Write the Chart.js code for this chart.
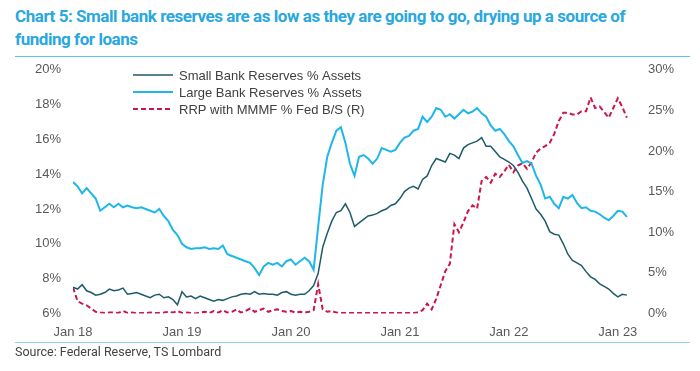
<!DOCTYPE html>
<html>
<head>
<meta charset="utf-8">
<script src="https://cdn.jsdelivr.net/npm/chart.js@4/dist/chart.umd.min.js"></script>
<style>
  body { margin: 0; background: #fff; width: 700px; height: 371px; overflow: hidden; position: relative; }
  #titulo {
    position: absolute; left: 15px; top: 5px; width: 680px;
    font-family: Roboto, sans-serif; font-weight: bold; font-size: 17px; line-height: 23px;
    color: #29a8df; letter-spacing: -0.45px;
  }
  #linhaTopo { position: absolute; left: 15px; top: 56px; width: 675px; height: 0; border-top: 1.5px solid #5cc3ea; }
  #linhaBase { position: absolute; left: 15px; top: 342px; width: 675px; height: 0; border-top: 1px solid #8fd3ef; }
  #fonte {
    position: absolute; left: 15px; top: 344px;
    font-family: Roboto, sans-serif; font-size: 12.5px; color: #444;
  }
  #caixa { position: absolute; left: 0; top: 58px; width: 700px; height: 287px; }
</style>
</head>
<body>
<div id="titulo">Chart 5: Small bank reserves are as low as they are going to go, drying up a source of<br>funding for loans</div>
<div id="linhaTopo"></div>
<div id="caixa"><canvas id="grafico"></canvas></div>
<div id="linhaBase"></div>
<div id="fonte">Source: Federal Reserve, TS Lombard</div>
<script>
// meio-mes a partir de Jan 18 (indice * 0.5 = meses)
const rotulosAnos = ['Jan 18', 'Jan 19', 'Jan 20', 'Jan 21', 'Jan 22', 'Jan 23'];

const reservasPequenos = [
  7.5, 7.4, 7.65, 7.3, 7.2, 7.05, 7.1, 7.2, 7.4, 7.3,
  7.35, 7.45, 7.1, 7.15, 7.2, 7.1, 7.0, 6.9, 7.05, 7.1,
  6.9, 6.95, 6.8, 6.5, 7.25, 6.95, 7.0, 6.85, 7.0, 6.9,
  6.8, 6.7, 6.8, 6.75, 6.85, 6.95, 7.0, 7.1, 7.15, 7.1,
  7.25, 7.1, 7.15, 7.1, 7.1, 7.05, 7.2, 7.25, 7.1, 7.05,
  7.1, 7.1, 7.3, 7.6, 8.3, 9.8, 10.6, 11.3, 11.8, 11.9,
  12.3, 11.8, 11.0, 11.2, 11.4, 11.6, 11.65, 11.75, 11.9, 12.0,
  12.2, 12.3, 12.6, 13.0, 13.2, 13.3, 13.15, 13.7, 13.9, 14.5,
  14.9, 14.8, 14.7, 15.2, 15.1, 14.9, 15.5, 15.7, 15.8, 15.9,
  16.1, 15.6, 15.6, 15.3, 15.0, 14.85, 14.7, 14.5, 14.1, 13.6,
  13.2, 12.6, 12.0, 11.7, 11.3, 10.7, 10.55, 10.5, 10.0, 9.4,
  9.05, 8.9, 8.75, 8.4, 8.1, 7.95, 7.7, 7.55, 7.4, 7.15,
  6.95, 7.1, 7.05
];

const reservasGrandes = [
  13.55, 13.3, 12.9, 13.2, 12.9, 12.6, 11.9, 12.1, 12.3, 12.1,
  12.3, 12.1, 12.2, 12.1, 12.05, 12.1, 12.0, 11.9, 11.8, 12.0,
  11.6, 11.3, 10.8, 10.5, 10.0, 9.8, 9.7, 9.75, 9.75, 9.8,
  9.7, 9.75, 9.7, 9.9, 9.4, 9.3, 9.2, 9.1, 9.0, 8.9,
  8.6, 8.2, 8.7, 8.9, 8.8, 8.9, 8.7, 9.0, 9.1, 8.8,
  9.0, 9.2, 9.0, 8.5, 11.0, 13.4, 15.0, 15.8, 16.5, 16.7,
  15.8, 14.6, 13.9, 15.0, 15.1, 14.9, 14.6, 14.9, 15.5, 15.4,
  15.3, 15.4, 15.8, 16.1, 16.2, 16.5, 16.6, 17.3, 17.0, 17.3,
  17.8, 17.7, 17.3, 17.45, 17.2, 17.45, 17.7, 17.5, 17.6, 17.8,
  17.5, 17.3, 16.8, 16.5, 16.6, 16.3, 15.9, 15.6, 15.1, 14.65,
  14.75, 14.6, 13.9, 13.4, 12.6, 12.7, 12.3, 12.05, 12.7, 12.6,
  12.8, 12.35, 12.05, 12.1, 11.9, 11.85, 11.7, 11.5, 11.35, 11.6,
  11.9, 11.85, 11.55
];

const rrpFed = [
  3.2, 1.5, 1.2, 1.0, 0.6, 0.2, 0.1, 0.05, 0.1, 0.1,
  0.05, 0.3, 0.05, 0.1, 0.0, 0.05, 0.05, 0.1, 0.05, 0.05,
  0.1, 0.2, 0.1, 0.3, 0.05, 0.1, 0.05, 0.0, 0.1, 0.2,
  0.05, 0.3, 0.1, 0.4, 0.1, 0.2, 0.5, 0.1, 0.3, 0.6,
  0.2, 0.4, 0.6, 0.2, 0.4, 0.5, 0.3, 0.2, 0.3, 0.1,
  0.2, 0.1, 0.2, 0.4, 3.6, 0.5, 0.2, 0.3, 0.1, 0.05,
  0.05, 0.05, 0.05, 0.05, 0.05, 0.05, 0.05, 0.05, 0.05, 0.05,
  0.05, 0.05, 0.05, 0.05, 0.05, 0.05, 0.1, 0.4, 1.2, 0.5,
  1.8, 3.5, 5.2, 6.1, 11.0, 10.0, 11.2, 12.6, 13.3, 12.9,
  16.3, 16.8, 16.1, 17.2, 16.8, 17.5, 18.3, 17.4, 18.2, 18.5,
  17.8, 18.6, 19.8, 20.3, 20.6, 21.0, 22.1, 23.7, 24.7, 24.7,
  24.5, 24.5, 24.9, 24.9, 26.6, 25.3, 25.5, 24.8, 24.1, 25.3,
  26.5, 25.4, 24.1
];

function paraPontos(serie) {
  return serie.map((v, i) => ({ x: i / 2, y: v }));
}

// legenda desenhada dentro da area do grafico
const legendaInterna = {
  id: 'legendaInterna',
  afterDraw(chart) {
    const ctx = chart.ctx;
    const x0 = 133, y0 = 17, passo = 17;
    ctx.save();
    ctx.font = '13px "Liberation Sans", Arial, sans-serif';
    ctx.textBaseline = 'middle';
    chart.data.datasets.forEach((ds, i) => {
      const y = y0 + i * passo;
      ctx.beginPath();
      ctx.strokeStyle = ds.borderColor;
      ctx.lineWidth = ds.borderWidth;
      ctx.setLineDash(ds.borderDash || []);
      ctx.moveTo(x0, y);
      ctx.lineTo(x0 + 40, y);
      ctx.stroke();
      ctx.setLineDash([]);
      ctx.fillStyle = '#404040';
      ctx.fillText(ds.label, x0 + 46, y + 1);
    });
    ctx.restore();
  }
};

const fonteEixo = { family: '"Liberation Sans", Arial, sans-serif', size: 13 };

new Chart(document.getElementById('grafico'), {
  type: 'line',
  data: {
    datasets: [
      {
        label: 'Small Bank Reserves % Assets',
        data: paraPontos(reservasPequenos),
        borderColor: '#1f5b6b',
        borderWidth: 1.5,
        yAxisID: 'y'
      },
      {
        label: 'Large Bank Reserves % Assets',
        data: paraPontos(reservasGrandes),
        borderColor: '#1fb6ea',
        borderWidth: 2,
        yAxisID: 'y'
      },
      {
        label: 'RRP with MMMF % Fed B/S (R)',
        data: paraPontos(rrpFed),
        borderColor: '#c8174a',
        borderWidth: 2,
        borderDash: [5, 3],
        yAxisID: 'y1'
      }
    ]
  },
  options: {
    responsive: true,
    maintainAspectRatio: false,
    animation: false,
    elements: { point: { radius: 0 }, line: { tension: 0 } },
    layout: { padding: { left: 31, right: 22, top: 4, bottom: 2 } },
    plugins: { legend: { display: false }, tooltip: { enabled: false } },
    scales: {
      x: {
        type: 'linear',
        min: 0,
        max: 62,
        grid: { display: false },
        border: { display: false },
        afterBuildTicks: axis => { axis.ticks = [0, 12, 24, 36, 48, 60].map(v => ({ value: v })); },
        ticks: {
          color: '#595959',
          font: fonteEixo,
          maxRotation: 0,
          autoSkip: false,
          padding: 3,
          callback: v => rotulosAnos[v / 12]
        }
      },
      y: {
        position: 'left',
        min: 6,
        max: 20,
        grid: { display: false },
        border: { display: false },
        ticks: { stepSize: 2, color: '#595959', font: fonteEixo, padding: 4, callback: v => v + '%' }
      },
      y1: {
        position: 'right',
        min: 0,
        max: 30,
        grid: { display: false },
        border: { display: false },
        ticks: { stepSize: 5, color: '#595959', font: fonteEixo, padding: 4, callback: v => v + '%' }
      }
    }
  },
  plugins: [legendaInterna]
});
</script>
</body>
</html>
